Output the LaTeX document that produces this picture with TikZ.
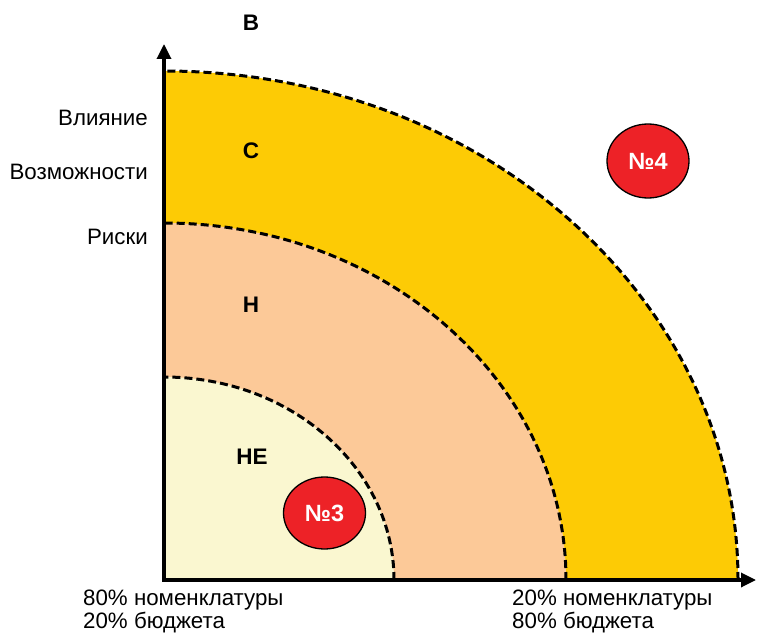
\documentclass[tikz,border=0pt]{standalone}
\usepackage{fontspec}
\setmainfont{Liberation Sans}
\usetikzlibrary{arrows.meta,shapes.geometric}
\definecolor{outerY}{HTML}{FDCB05}
\definecolor{midP}{HTML}{FCC998}
\definecolor{innerC}{HTML}{FAF7D0}
\definecolor{redB}{HTML}{ED2227}
\begin{document}
\begin{tikzpicture}[x=1pt,y=1pt,
  lbl/.style={font=\fontsize{22.3}{26}\selectfont, inner sep=0pt},
  zlbl/.style={font=\fontsize{22.5}{26}\selectfont\bfseries, inner sep=0pt},
  bnd/.style={dash pattern=on 8pt off 4pt, line width=3pt},
  badge/.style={ellipse, draw=black, line width=1.3pt, fill=redB, text=white,
    font=\fontsize{23.5}{27}\selectfont\bfseries, inner sep=0pt},
  axisline/.style={line width=3.3pt, {Triangle[width=14pt,length=15pt]}-{Triangle[width=14pt,length=15pt]}}]
\useasboundingbox (0,0) rectangle (760,633);
\coordinate (O) at (164,53);
\coordinate (ytip) at (164,589);
\coordinate (xtip) at (756,53);
% zones
\fill[outerY] (O) -- (738,53) arc (0:90:574 and 509) -- cycle;
\fill[midP] (O) -- (566,53) arc (0:90:402 and 357) -- cycle;
\fill[innerC] (O) -- (394,53) arc (0:90:230 and 203) -- cycle;
\draw[bnd] (738,53) arc (0:90:574 and 509);
\draw[bnd] (566,53) arc (0:90:402 and 357);
\draw[bnd] (394,53) arc (0:90:230 and 203);
% axes
\draw[axisline] (ytip) -- (O) -- (xtip);
% labels
\node[zlbl] (lb) at (251,610) {В};
\node[zlbl] (lc) at (251,482) {С};
\node[zlbl] (ln) at (251,328) {Н};
\node[zlbl] (lne) at (252,176) {НЕ};
\node[lbl, anchor=east] (l1) at (148,515) {Влияние};
\node[lbl, anchor=east] (l2) at (148,461) {Возможности};
\node[lbl, anchor=east] (l3) at (148,396) {Риски};
\node[lbl, anchor=base west] (b1) at (83,28) {80\% номенклатуры};
\node[lbl, anchor=base west] (b2) at (83,5) {20\% бюджета};
\node[lbl, anchor=base west] (b3) at (512,28) {20\% номенклатуры};
\node[lbl, anchor=base west] (b4) at (512,5) {80\% бюджета};
% badges
\node[badge, minimum width=82pt, minimum height=72pt] (n3) at (324.5,120) {№3};
\node[badge, minimum width=82pt, minimum height=74pt] (n4) at (648,472) {№4};
\end{tikzpicture}
\end{document}
